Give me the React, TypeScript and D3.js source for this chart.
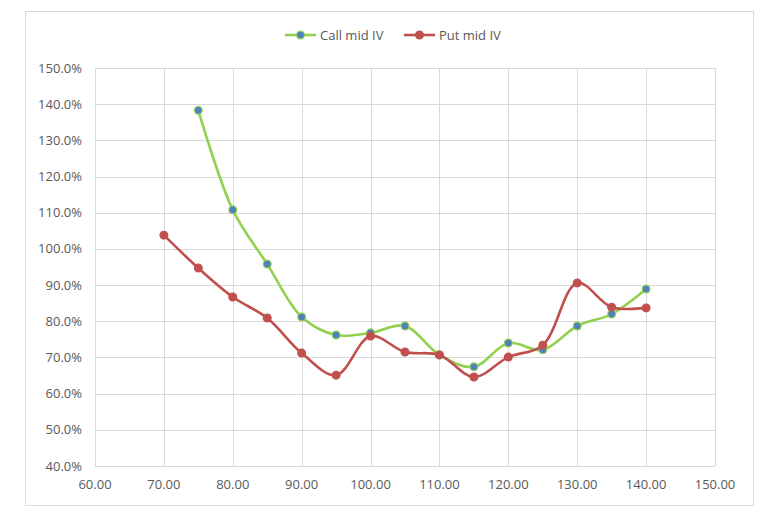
import React from "react";
import * as d3 from "d3";

const strikes = [70, 75, 80, 85, 90, 95, 100, 105, 110, 115, 120, 125, 130, 135, 140];
const callIV: (number | null)[] = [null, 138.3, 110.8, 95.8, 81.2, 76.2, 76.8, 78.7, 70.7, 67.4, 74.0, 72.1, 78.7, 82.0, 88.9];
const putIV: (number | null)[] = [103.8, 94.7, 86.7, 80.9, 71.2, 65.1, 75.9, 71.5, 70.7, 64.6, 70.1, 73.4, 90.6, 83.9, 83.7];
const xTicks = [60, 70, 80, 90, 100, 110, 120, 130, 140, 150];
const yTicks = [40, 50, 60, 70, 80, 90, 100, 110, 120, 130, 140, 150];
const seriesNames = ["Call mid IV", "Put mid IV"];

const W = 775, H = 528;
const L = 95, R = 715, T = 68, B = 466;
const FONT = "'Open Sans', 'Noto Sans', sans-serif";
const TXT = "#595959";
const GRID = "#d9d9d9";

export default function App() {
  const x = d3.scaleLinear().domain([60, 150]).range([L, R]);
  const y = d3.scaleLinear().domain([40, 150]).range([B, T]);
  const mk = (vals: (number | null)[]) =>
    strikes.map((s, i) => ({ s, v: vals[i] })).filter((d) => d.v != null) as { s: number; v: number }[];
  const callPts = mk(callIV);
  const putPts = mk(putIV);
  const line = d3
    .line<{ s: number; v: number }>()
    .x((d) => x(d.s))
    .y((d) => y(d.v))
    .curve(d3.curveCatmullRom.alpha(0.5));

  const series = [
    { name: seriesNames[0], pts: callPts, stroke: "#92D050", fill: "#4F81BD", mstroke: "#92D050" },
    { name: seriesNames[1], pts: putPts, stroke: "#C0504D", fill: "#C0504D", mstroke: "#C0504D" },
  ];
  const legendX = [285, 404];

  return (
    <svg width={W} height={H} style={{ position: "absolute", left: 0, top: 0, background: "#fff" }}>
      <rect x={25.5} y={11.5} width={728} height={494} fill="#fff" stroke={GRID} strokeWidth={1} />
      {xTicks.map((t) => (
        <line key={"vx" + t} x1={Math.round(x(t)) + 0.5} x2={Math.round(x(t)) + 0.5} y1={T} y2={B} stroke={GRID} />
      ))}
      {yTicks.map((t) => (
        <line key={"hy" + t} x1={L} x2={R} y1={Math.round(y(t)) + 0.5} y2={Math.round(y(t)) + 0.5} stroke={GRID} />
      ))}
      {yTicks.map((t) => (
        <text key={"ty" + t} x={L - 13} y={y(t)} dy="0.35em" textAnchor="end" fontFamily={FONT} fontSize={13} fill={TXT}>
          {t.toFixed(1)}%
        </text>
      ))}
      {xTicks.map((t) => (
        <text key={"tx" + t} x={x(t)} y={B + 23} textAnchor="middle" fontFamily={FONT} fontSize={13} fill={TXT}>
          {t.toFixed(2)}
        </text>
      ))}
      {series.map((s) => (
        <g key={s.name}>
          <path d={line(s.pts) || ""} fill="none" stroke={s.stroke} strokeWidth={2.6} strokeLinejoin="round" />
          {s.pts.map((p) => (
            <circle key={p.s} cx={x(p.s)} cy={y(p.v)} r={3.9} fill={s.fill} stroke={s.mstroke} strokeWidth={1.2} />
          ))}
        </g>
      ))}
      {series.map((s, i) => (
        <g key={"lg" + s.name} transform={`translate(${legendX[i]},35)`}>
          <line x1={0} x2={31} y1={0} y2={0} stroke={s.stroke} strokeWidth={2.6} />
          <circle cx={15.5} cy={0} r={3.9} fill={s.fill} stroke={s.mstroke} strokeWidth={1.2} />
          <text x={35} y={0} dy="0.35em" fontFamily={FONT} fontSize={13} fill={TXT}>
            {s.name}
          </text>
        </g>
      ))}
    </svg>
  );
}
